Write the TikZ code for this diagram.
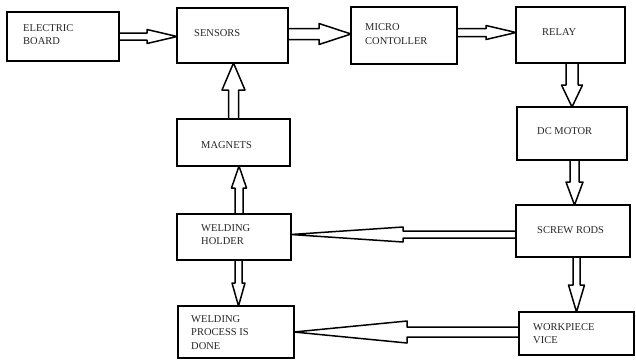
\documentclass[tikz,border=0pt]{standalone}
\usepackage{fontspec}
\setmainfont{Liberation Serif}
\usetikzlibrary{calc}
\tikzset{
  box/.style={draw, line width=1.8pt, rectangle, inner sep=0pt, outer sep=0pt},
  lbl/.style={anchor=base west, inner sep=0pt, font=\fontsize{10.5}{13.5}\selectfont, text=black!85},
  arrline/.style={draw, line width=1.5pt, line join=round},
}
\newcommand{\blockarrow}[5]{%
  \path ($(#2)!#5!(#1)$) coordinate (bC);
  \draw[arrline] ($(#1)!#3!90:(#2)$) -- ($(bC)!#3!90:(#2)$) -- ($(bC)!#4!90:(#2)$) -- (#2)
    -- ($(bC)!#4!-90:(#2)$) -- ($(bC)!#3!-90:(#2)$) -- ($(#1)!#3!-90:(#2)$) -- cycle;}
\newcommand{\twolines}[2]{\parbox[t]{3cm}{\raggedright #1\\#2}}
\begin{document}
\begin{tikzpicture}[x=1pt,y=-1pt]
\useasboundingbox (0,0) rectangle (636,360);
% boxes
\node[box, minimum width=112pt, minimum height=49pt] (eb) at (63,36.5) {};
\node[box, minimum width=111pt, minimum height=55pt] (sens) at (232.5,35.5) {};
\node[box, minimum width=106pt, minimum height=57pt] (micro) at (404,35.5) {};
\node[box, minimum width=109pt, minimum height=56pt] (relay) at (570.5,35) {};
\node[box, minimum width=110pt, minimum height=53pt] (dc) at (572,133.5) {};
\node[box, minimum width=114pt, minimum height=52pt] (screw) at (573,231) {};
\node[box, minimum width=115pt, minimum height=43pt] (work) at (576.5,333.5) {};
\node[box, minimum width=114pt, minimum height=46pt] (holder) at (234,237) {};
\node[box, minimum width=116pt, minimum height=52pt] (proc) at (236,332) {};
\node[box, minimum width=113pt, minimum height=47pt] (magnets) at (233.5,142.5) {};
% labels
\node[lbl] (teb) at (23,31) {\twolines{ELECTRIC}{BOARD}};
\node[lbl] (tsens) at (194,36) {SENSORS};
\node[lbl] (tmicro) at (365,30) {\parbox[t]{3cm}{\baselineskip=14pt MICRO\\CONTOLLER}};
\node[lbl] (trelay) at (542,35) {RELAY};
\node[lbl] (tmag) at (201,148) {MAGNETS};
\node[lbl] (tdc) at (537,134.5) {DC MOTOR};
\node[lbl] (tscrew) at (537,233) {SCREW RODS};
\node[lbl] (thold) at (201,231) {\twolines{WELDING}{HOLDER}};
\node[lbl] (tproc) at (191,322) {\parbox[t]{3cm}{\raggedright WELDING\\PROCESS IS\\DONE}};
\node[lbl] (twork) at (533,330) {\twolines{WORKPIECE}{VICE}};
% connector end points
\coordinate (a1s) at (eb.east);
\coordinate (a1e) at (a1s -| sens.west);
\coordinate (a2s) at ($(sens.east)+(0,-1.5)$);
\coordinate (a2e) at (a2s -| micro.west);
\coordinate (a3s) at ($(micro.east)+(0,-3)$);
\coordinate (a3e) at (a3s -| relay.west);
\coordinate (a4s) at ($(relay.south)+(1.5,0)$);
\coordinate (a4e) at (a4s |- dc.north);
\coordinate (a5s) at ($(dc.south)+(2.5,0)$);
\coordinate (a5e) at (a5s |- screw.north);
\coordinate (a6s) at ($(screw.south)+(3.5,0)$);
\coordinate (a6e) at (a6s |- work.north);
\coordinate (a7s) at ($(screw.west)+(0,3.5)$);
\coordinate (a7e) at (a7s -| holder.east);
\coordinate (a8s) at ($(work.west)+(0,-1.5)$);
\coordinate (a8e) at (a8s -| proc.east);
\coordinate (a9s) at ($(holder.south)+(4.5,0)$);
\coordinate (a9e) at (a9s |- proc.north);
\coordinate (a10s) at ($(holder.north)+(5,0)$);
\coordinate (a10e) at (a10s |- magnets.south);
\coordinate (a11s) at (magnets.north);
\coordinate (a11e) at (a11s |- sens.south);
% block arrows
\blockarrow{a1s}{a1e}{3.5pt}{7pt}{30pt}
\blockarrow{a2s}{a2e}{5.5pt}{10.5pt}{32pt}
\blockarrow{a3s}{a3e}{4pt}{7pt}{30pt}
\blockarrow{a4s}{a4e}{6pt}{10.5pt}{22pt}
\blockarrow{a5s}{a5e}{4.5pt}{8.5pt}{23pt}
\blockarrow{a6s}{a6e}{3.5pt}{8pt}{27pt}
\blockarrow{a7s}{a7e}{3.5pt}{7.5pt}{112pt}
\blockarrow{a8s}{a8e}{5pt}{11pt}{113pt}
\blockarrow{a9s}{a9e}{3.5pt}{6.5pt}{23pt}
\blockarrow{a10s}{a10e}{4pt}{7.5pt}{22pt}
\blockarrow{a11s}{a11e}{5pt}{11.5pt}{27pt}
\end{tikzpicture}
\end{document}
